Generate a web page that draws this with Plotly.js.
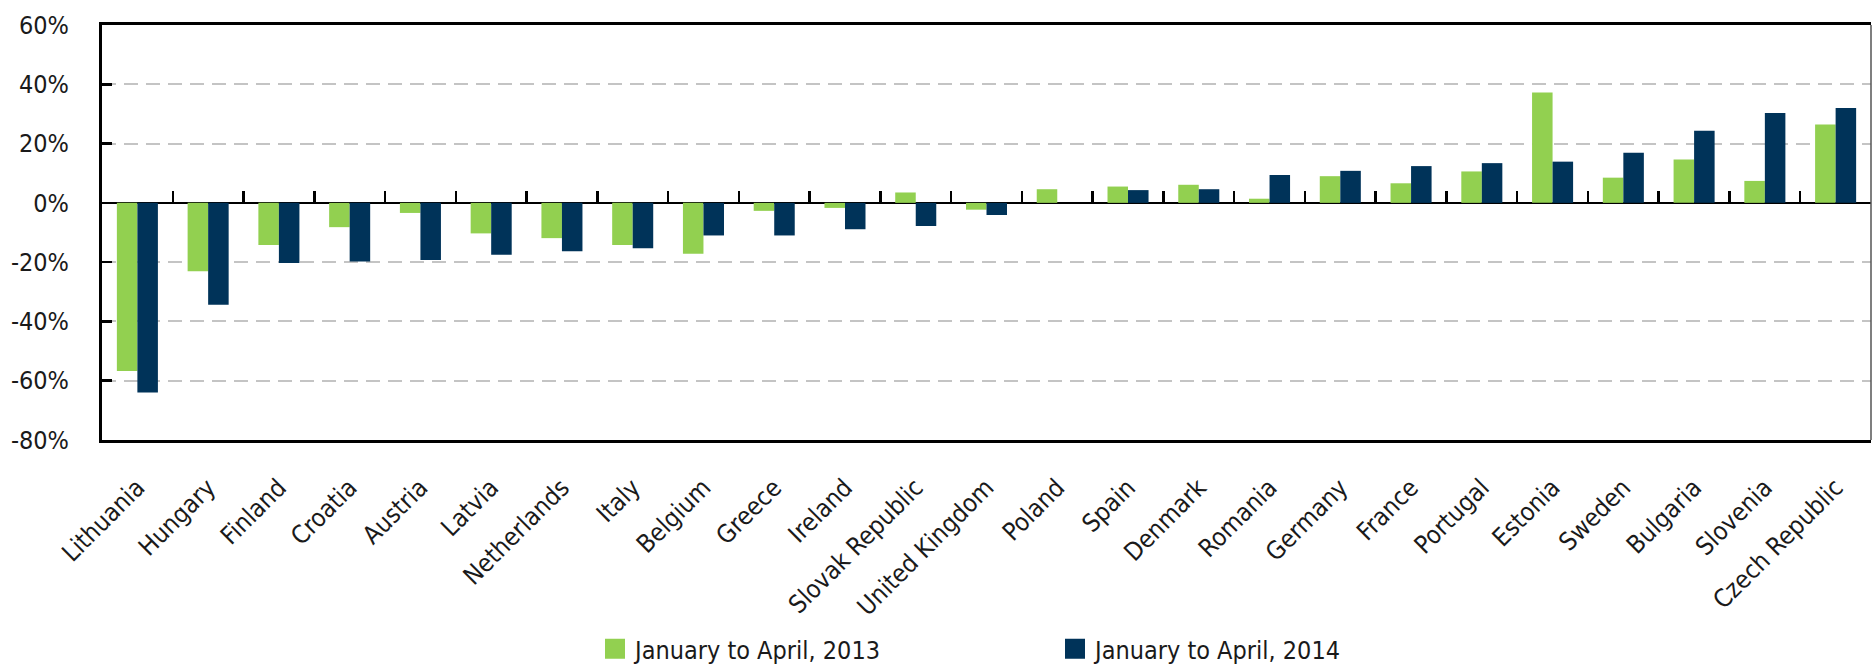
<!DOCTYPE html>
<html>
<head>
<meta charset="utf-8">
<script src="https://cdn.plot.ly/plotly-3.0.1.min.js"></script>
<style>
  html, body { margin: 0; padding: 0; background: #fff; }
  #chart { width: 1873px; height: 670px; }
</style>
</head>
<body>
<div id="chart"></div>
<script>
const countries = ["Lithuania", "Hungary", "Finland", "Croatia", "Austria", "Latvia",
  "Netherlands", "Italy", "Belgium", "Greece", "Ireland", "Slovak Republic",
  "United Kingdom", "Poland", "Spain", "Denmark", "Romania", "Germany", "France",
  "Portugal", "Estonia", "Sweden", "Bulgaria", "Slovenia", "Czech Republic"];
const series2013Name = "January to April, 2013";
const series2014Name = "January to April, 2014";
const values2013 = [-56.7, -23.1, -14.2, -8.2, -3.4, -10.3, -11.9, -14.2, -17.2, -2.7,
  -1.7, 3.5, -2.3, 4.6, 5.5, 6.1, 1.4, 9.0, 6.6, 10.6, 37.2, 8.5, 14.6, 7.4, 26.4];
const values2014 = [-64.0, -34.4, -20.3, -19.8, -19.3, -17.5, -16.3, -15.3, -11.0, -11.0,
  -8.9, -7.8, -4.1, 0, 4.3, 4.6, 9.4, 10.8, 12.4, 13.4, 13.9, 16.9, 24.3, 30.3, 32.0];
const yTickVals = [-80, -60, -40, -20, 0, 20, 40, 60];
const yTickText = ["-80%", "-60%", "-40%", "-20%", "0%", "20%", "40%", "60%"];
const yRange = [-80, 60];

const FONT = "'DejaVu Sans Condensed', 'Liberation Sans Narrow', 'DejaVu Sans', sans-serif";
const GREEN = "#92D050";
const NAVY = "#003359";

const traces = [
  { type: "bar", name: series2013Name, x: countries, y: values2013,
    marker: { color: GREEN, line: { width: 0 } }, hoverinfo: "x+y" },
  { type: "bar", name: series2014Name, x: countries, y: values2014,
    marker: { color: NAVY, line: { width: 0 } }, hoverinfo: "x+y" },
  // helper trace carrying the zero-line tick axis (no visible marks)
  { type: "scatter", mode: "none", x: countries, y: values2014, xaxis: "x2",
    showlegend: false, hoverinfo: "skip" }
];

const plotTop = 25, plotBottom = 440, H = 670;
const zeroFrac = (0 - yRange[0]) / (yRange[1] - yRange[0]);

const layout = {
  width: 1873, height: 670,
  margin: { l: 102, r: 2, t: plotTop, b: H - plotBottom, pad: 0 },
  paper_bgcolor: "#fff", plot_bgcolor: "#fff",
  font: { family: FONT, size: 25, color: "#1a1a1a" },
  barmode: "group", bargap: 0.42, bargroupgap: 0,
  showlegend: true,
  legend: {
    orientation: "h", xref: "container", yref: "container",
    x: 595 / 1873, xanchor: "left", y: (H - 649) / H, yanchor: "middle",
    entrywidth: 415, entrywidthmode: "pixels",
    font: { family: FONT, size: 25, color: "#1a1a1a" },
    bgcolor: "rgba(0,0,0,0)", borderwidth: 0, traceorder: "normal"
  },
  xaxis: {
    type: "category", categoryorder: "array", categoryarray: countries,
    range: [-0.5, countries.length - 0.5],
    showline: true, linecolor: "#000", linewidth: 3, mirror: true,
    showgrid: false, zeroline: false, ticks: "",
    tickangle: -45, ticklabelstandoff: 20,
    tickfont: { family: FONT, size: 25, color: "#1a1a1a" },
    fixedrange: true
  },
  xaxis2: {
    type: "category", matches: "x", overlaying: "x", anchor: "free", position: zeroFrac,
    side: "bottom", showline: false, showgrid: false, zeroline: false,
    ticks: "inside", tickson: "boundaries", ticklen: 12, tickwidth: 2.5, tickcolor: "#000",
    showticklabels: false, fixedrange: true
  },
  yaxis: {
    range: yRange, tickvals: yTickVals, ticktext: yTickText,
    showline: true, linecolor: "#000", linewidth: 3, mirror: false,
    ticks: "inside", ticklen: 10, tickwidth: 2.5, tickcolor: "#000",
    showgrid: true, gridcolor: "#c4c4c4", gridwidth: 2, griddash: "14px,8px",
    zeroline: true, zerolinecolor: "#000", zerolinewidth: 2.5,
    ticklabelstandoff: 25,
    tickfont: { family: FONT, size: 25, color: "#1a1a1a" },
    fixedrange: true
  },
  shapes: [
    { type: "line", xref: "paper", yref: "paper", x0: 1, x1: 1, y0: 0, y1: 1,
      line: { color: "#555", width: 1.5 } }
  ]
};

Plotly.newPlot("chart", traces, layout, { displayModeBar: false, staticPlot: true }).then(function () {
  document.querySelectorAll(".legend .legendpoints path").forEach(function (p) {
    p.setAttribute("d", "M10,10H-10V-10H10Z");
  });
});
</script>
</body>
</html>
